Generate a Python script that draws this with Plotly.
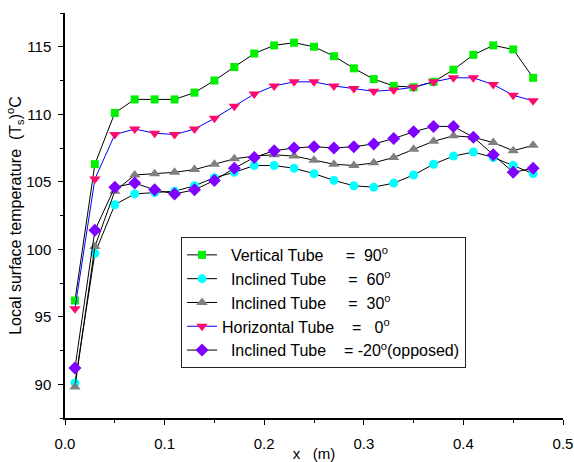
import plotly.graph_objects as go

# Axial positions along the tube (m)
x_pos = [0.01, 0.03, 0.05, 0.07, 0.09, 0.11, 0.13, 0.15, 0.17, 0.19, 0.21, 0.23,
         0.25, 0.27, 0.29, 0.31, 0.33, 0.35, 0.37, 0.39, 0.41, 0.43, 0.45, 0.47]

# Local surface temperature (degC) for each tube inclination
t_vertical_90 = [96.2, 106.3, 110.1, 111.1, 111.1, 111.1, 111.6, 112.5, 113.5, 114.5, 115.1, 115.3,
                 115.0, 114.3, 113.4, 112.6, 112.1, 112.0, 112.4, 113.3, 114.4, 115.1, 114.8, 112.7]
t_inclined_60 = [90.1, 99.7, 103.3, 104.1, 104.2, 104.3, 104.7, 105.3, 105.7, 106.2, 106.2, 106.0,
                 105.6, 105.1, 104.7, 104.6, 104.9, 105.5, 106.3, 106.9, 107.2, 106.8, 106.2, 105.6]
t_inclined_30 = [89.8, 100.2, 104.3, 105.5, 105.6, 105.7, 105.9, 106.3, 106.7, 106.9, 107.0, 106.9,
                 106.6, 106.3, 106.2, 106.4, 106.8, 107.4, 108.0, 108.4, 108.3, 107.9, 107.3, 107.7]
t_horizontal_0 = [95.6, 105.2, 108.5, 108.9, 108.6, 108.5, 108.9, 109.7, 110.6, 111.5, 112.1, 112.4,
                  112.4, 112.1, 111.9, 111.7, 111.8, 112.0, 112.4, 112.7, 112.7, 112.2, 111.4, 111.0]
t_inclined_m20 = [91.2, 101.4, 104.6, 104.9, 104.4, 104.1, 104.4, 105.1, 106.0, 106.8, 107.3, 107.5,
                  107.6, 107.5, 107.6, 107.8, 108.2, 108.7, 109.1, 109.1, 108.3, 107.0, 105.7, 106.0]

x_ticks = [0.0, 0.1, 0.2, 0.3, 0.4, 0.5]
x_ticklabels = ["0.0", "0.1", "0.2", "0.3", "0.4", "0.5"]
y_ticks = [90, 95, 100, 105, 110, 115]

NB = "\u00a0"
series = [
    (NB * 2 + "Vertical Tube" + NB * 5 + "=" + NB * 2 + "90<sup>o</sup>", t_vertical_90,
     "square", "#00f000", "#000000", 8),
    (NB * 2 + "Inclined Tube" + NB * 5 + "=" + NB * 2 + "60<sup>o</sup>", t_inclined_60,
     "circle", "#00ffff", "#000000", 9),
    (NB * 2 + "Inclined Tube" + NB * 5 + "=" + NB * 2 + "30<sup>o</sup>", t_inclined_30,
     "triangle-up", "#808080", "#000000", 10),
    ("Horizontal Tube" + NB * 4 + "=" + NB * 3 + "0<sup>o</sup>", t_horizontal_0,
     "triangle-down", "#ff0a6c", "#0000ff", 10),
    (NB * 2 + "Inclined Tube" + NB * 4 + "=" + NB + "-20<sup>o</sup>(opposed)", t_inclined_m20,
     "diamond", "#8000ff", "#000000", 10),
]

FONT = "Liberation Sans, Arial, sans-serif"

fig = go.Figure()
for name, yvals, sym, mcol, lcol, msize in series:
    fig.add_trace(go.Scatter(
        x=x_pos, y=yvals, name=name, mode="lines+markers",
        line=dict(color=lcol, width=1),
        marker=dict(symbol=sym, color=mcol, size=msize, line=dict(width=0)),
    ))

axis_common = dict(
    showline=True, linecolor="black", linewidth=1.5, mirror=False,
    showgrid=False, zeroline=False, automargin=False,
    ticks="outside", ticklen=5, tickwidth=1.2, tickcolor="black",
    tickfont=dict(family=FONT, size=15, color="black"),
)

fig.update_layout(
    width=574, height=462,
    margin=dict(l=65, r=11, t=13, b=44),
    paper_bgcolor="white", plot_bgcolor="white",
    font=dict(family=FONT, size=15, color="black"),
    xaxis=dict(
        range=[0, 0.5], tickmode="array", tickvals=x_ticks, ticktext=x_ticklabels,
        minor=dict(tickvals=[0.05, 0.15, 0.25, 0.35, 0.45], ticks="outside",
                   ticklen=3, tickcolor="black"),
        ticklabelstandoff=6,
        title=dict(text="x" + NB * 3 + "(m)", standoff=0,
                   font=dict(family=FONT, size=15)),
        **axis_common,
    ),
    yaxis=dict(
        range=[87.5, 117.5], tickmode="array", tickvals=y_ticks,
        minor=dict(dtick=2.5, tick0=87.5, ticks="outside", ticklen=3, tickcolor="black"),
        ticklabelstandoff=4,
        title=dict(text="Local surface temperature" + NB * 2 + "(T<sub>s</sub>)<sup>o</sup>C",
                   standoff=1,
                   font=dict(family=FONT, size=16)),
        **axis_common,
    ),
    legend=dict(
        x=0.233, y=0.447, xanchor="left", yanchor="top",
        bordercolor="#222222", borderwidth=1, bgcolor="white",
        font=dict(family=FONT, size=16, color="black"),
        itemwidth=30, tracegroupgap=0,
    ),
)

fig.write_html("out.html")
